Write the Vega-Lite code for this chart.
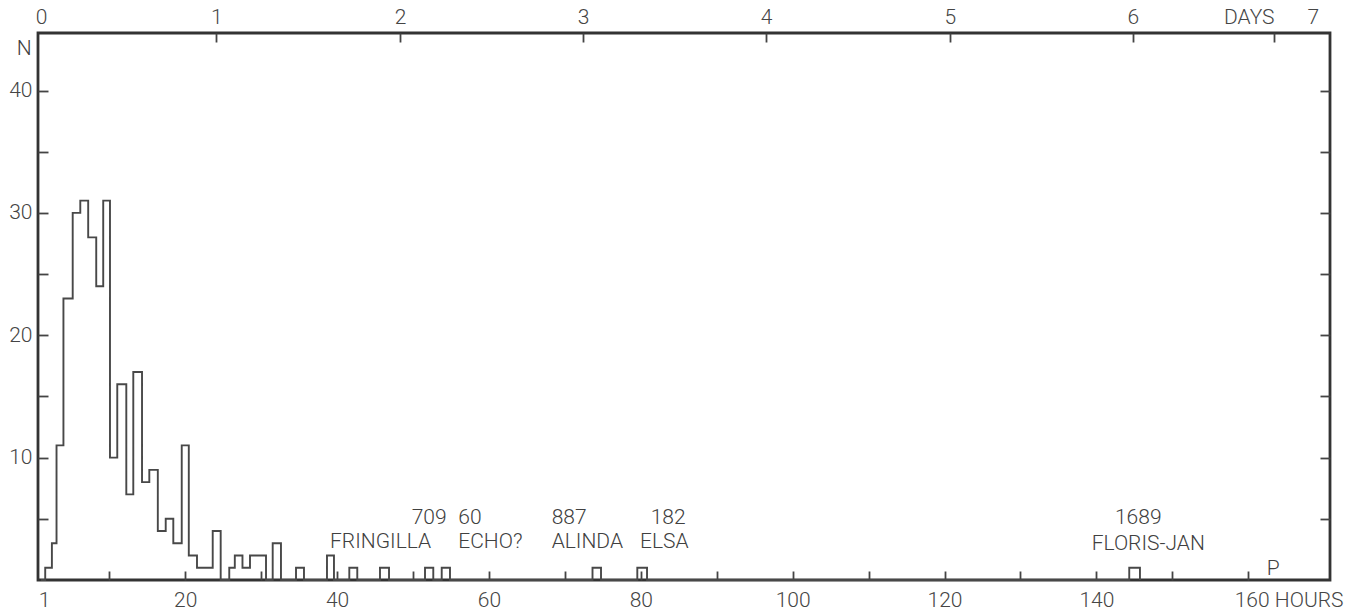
{
  "$schema": "https://vega.github.io/schema/vega-lite/v6.json",
  "width": 1292,
  "height": 547,
  "autosize": {"type": "none"},
  "padding": {"left": 38, "top": 33, "right": 31, "bottom": 36},
  "background": "white",
  "config": {
    "view": {"stroke": "#333333", "strokeWidth": 2.8},
    "font": "Roboto",
    "axis": {
      "domain": false,
      "grid": false,
      "title": null,
      "labelFont": "Roboto",
      "labelFontWeight": 300,
      "labelFontSize": 21,
      "labelColor": "#454545",
      "tickWidth": 1.8,
      "labelOverlap": false,
      "labelFlush": false,
      "labelBound": false
    }
  },
  "datasets": {
    "bins": [
      {"start": 1.0, "n": 0},
      {"start": 1.56, "n": 1},
      {"start": 2.44, "n": 3},
      {"start": 3.05, "n": 11},
      {"start": 3.96, "n": 23},
      {"start": 5.18, "n": 30},
      {"start": 6.18, "n": 31},
      {"start": 7.22, "n": 28},
      {"start": 8.28, "n": 24},
      {"start": 9.2, "n": 31},
      {"start": 10.09, "n": 10},
      {"start": 11.05, "n": 16},
      {"start": 12.24, "n": 7},
      {"start": 13.16, "n": 17},
      {"start": 14.31, "n": 8},
      {"start": 15.27, "n": 9},
      {"start": 16.39, "n": 4},
      {"start": 17.43, "n": 5},
      {"start": 18.43, "n": 3},
      {"start": 19.54, "n": 11},
      {"start": 20.47, "n": 2},
      {"start": 21.55, "n": 1},
      {"start": 22.6, "n": 1},
      {"start": 23.62, "n": 4},
      {"start": 24.67, "n": 0},
      {"start": 25.8, "n": 1},
      {"start": 26.53, "n": 2},
      {"start": 27.54, "n": 1},
      {"start": 28.53, "n": 2},
      {"start": 29.58, "n": 2},
      {"start": 30.64, "n": 0},
      {"start": 31.52, "n": 3},
      {"start": 32.61, "n": 0},
      {"start": 34.59, "n": 1},
      {"start": 35.64, "n": 0},
      {"start": 38.67, "n": 2},
      {"start": 39.59, "n": 0},
      {"start": 41.61, "n": 1},
      {"start": 42.66, "n": 0},
      {"start": 45.65, "n": 1},
      {"start": 46.84, "n": 0},
      {"start": 51.58, "n": 1},
      {"start": 52.67, "n": 0},
      {"start": 53.78, "n": 1},
      {"start": 54.87, "n": 0},
      {"start": 73.64, "n": 1},
      {"start": 74.76, "n": 0},
      {"start": 79.54, "n": 1},
      {"start": 80.82, "n": 0},
      {"start": 144.33, "n": 1},
      {"start": 145.74, "n": 0}
    ],
    "notes": [
      {"label": "709", "hours": 49.83, "n": 4.58},
      {"label": "60", "hours": 55.96, "n": 4.58},
      {"label": "887", "hours": 68.26, "n": 4.58},
      {"label": "182", "hours": 81.3, "n": 4.58},
      {"label": "FRINGILLA", "hours": 39.07, "n": 2.58},
      {"label": "ECHO?", "hours": 55.96, "n": 2.58},
      {"label": "ALINDA", "hours": 68.26, "n": 2.58},
      {"label": "ELSA", "hours": 79.89, "n": 2.58},
      {"label": "1689", "hours": 142.45, "n": 4.58},
      {"label": "FLORIS-JAN", "hours": 139.38, "n": 2.45},
      {"label": "N", "hours": -2.2, "n": 42.93},
      {"label": "P", "hours": 162.43, "n": 0.41}
    ]
  },
  "layer": [
    {
      "data": {"name": "bins"},
      "mark": {"type": "line", "interpolate": "step-after", "color": "#484848", "strokeWidth": 1.9},
      "encoding": {
        "x": {
          "field": "start",
          "type": "quantitative",
          "scale": {"domain": [0.61, 170.77], "nice": false, "zero": false},
          "axis": {
            "orient": "bottom",
            "values": [1.4, 10, 20, 30, 40, 50, 60, 70, 80, 90, 100, 110, 120, 130, 140, 150, 160],
            "labelExpr": "datum.value < 5 ? '1' : (datum.value % 20 == 0 ? (datum.value == 160 ? '160 HOURS' : datum.label) : '')",
            "tickSize": -9,
            "tickColor": {"condition": {"test": "datum.value < 5", "value": "transparent"}, "value": "#444444"},
            "labelAlign": {"condition": {"test": "datum.value == 160", "value": "left"}, "value": "center"},
            "labelOffset": {"condition": {"test": "datum.value == 160", "value": -14}, "value": 0},
            "labelPadding": 18
          }
        },
        "y": {
          "field": "n",
          "type": "quantitative",
          "scale": {"domain": [0, 44.7], "nice": false},
          "axis": {
            "orient": "left",
            "values": [5, 10, 15, 20, 25, 30, 35, 40],
            "labelExpr": "datum.value % 10 == 0 ? datum.label : ''",
            "tickSize": -10,
            "tickColor": "#444444",
            "labelPadding": 16
          }
        }
      }
    },
    {
      "data": {"name": "notes"},
      "mark": {"type": "text", "align": "left", "baseline": "alphabetic", "fontSize": 21, "font": "Roboto", "fontWeight": 300, "color": "#404040"},
      "encoding": {
        "x": {
          "field": "hours",
          "type": "quantitative",
          "scale": {"domain": [0.61, 170.77], "nice": false, "zero": false},
          "axis": {
            "orient": "top",
            "values": [1.0, 24.1, 48.3, 72.4, 96.5, 120.7, 144.8, 163.4, 168.5],
            "labelExpr": "datum.value < 2 ? '0' : (datum.value > 168 ? '7' : (datum.value > 160 ? 'DAYS' : '' + round(datum.value / 24)))",
            "tickSize": -9,
            "tickColor": {"condition": {"test": "datum.value < 2 || datum.value > 168", "value": "transparent"}, "value": "#444444"},
            "labelAlign": {"condition": {"test": "datum.value > 160 && datum.value < 168", "value": "right"}, "value": "center"},
            "labelPadding": 15
          }
        },
        "y": {
          "field": "n",
          "type": "quantitative",
          "scale": {"domain": [0, 44.7], "nice": false},
          "axis": {
            "orient": "right",
            "values": [5, 10, 15, 20, 25, 30, 35, 40],
            "labels": false,
            "tickSize": -10,
            "tickColor": "#444444"
          }
        },
        "text": {"field": "label", "type": "nominal"}
      }
    }
  ],
  "resolve": {"axis": {"x": "independent", "y": "independent"}}
}
